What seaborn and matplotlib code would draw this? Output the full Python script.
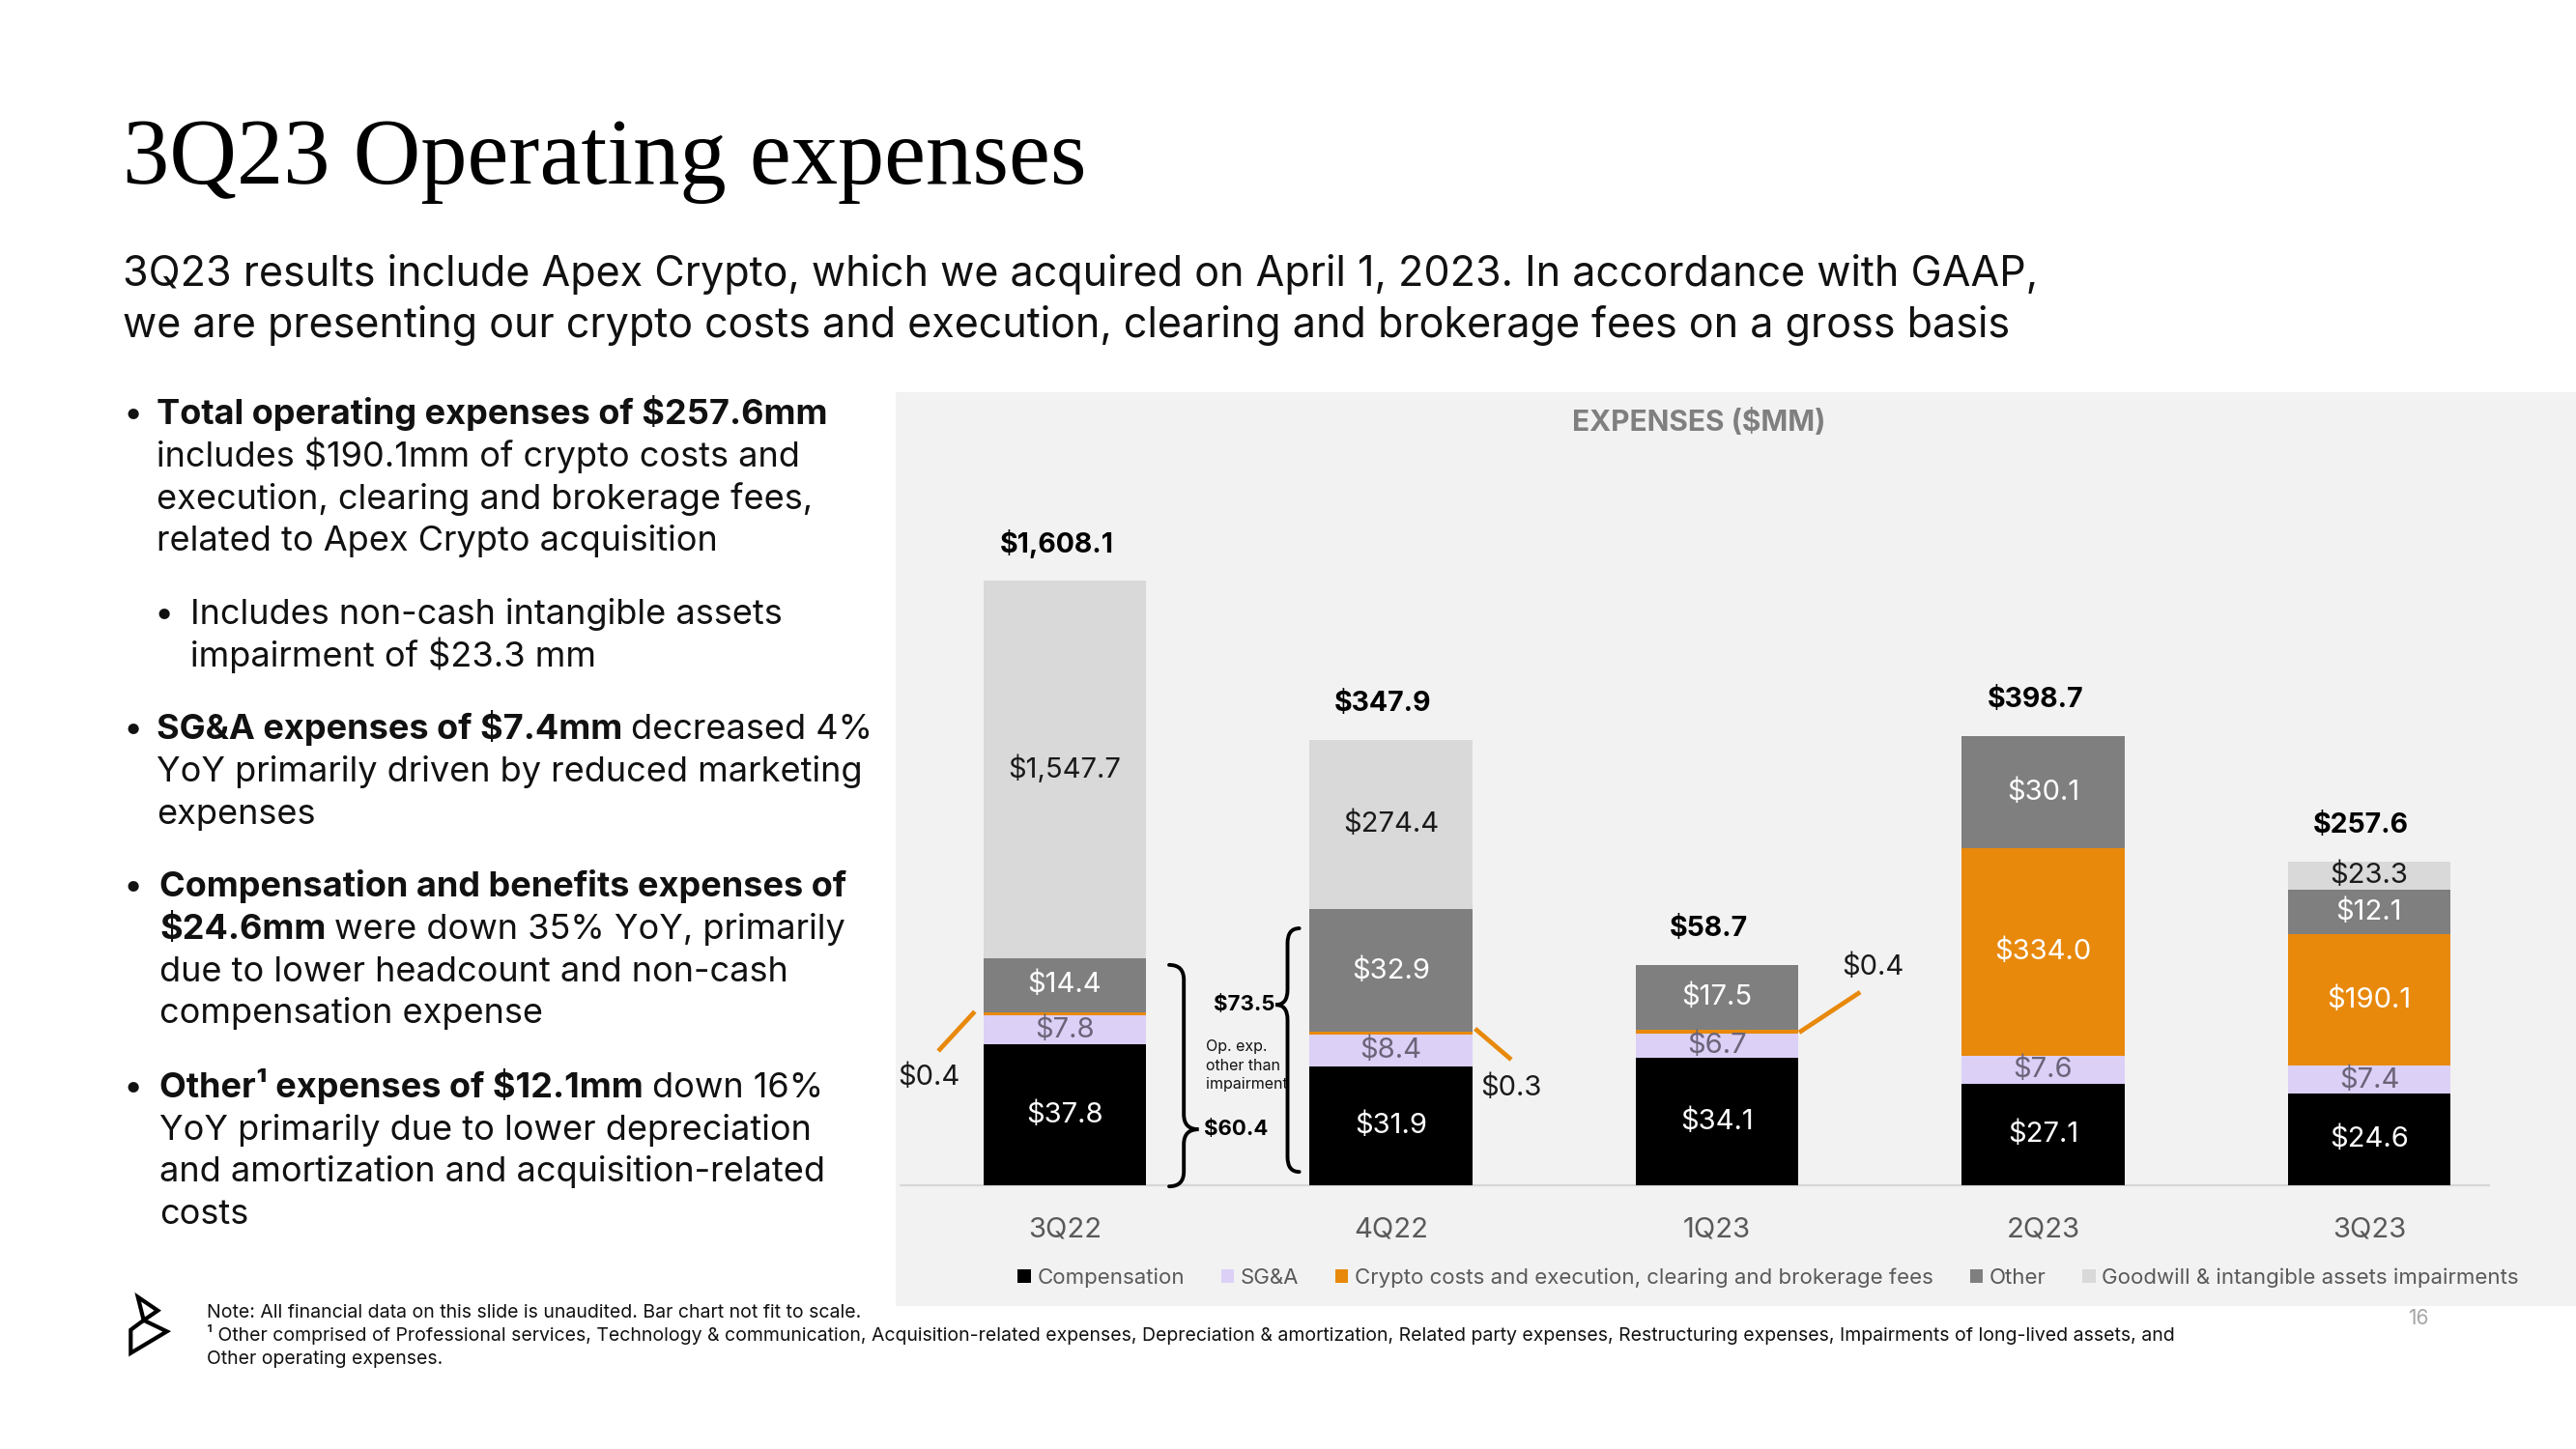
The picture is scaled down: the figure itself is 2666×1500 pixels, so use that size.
import numpy as np
import matplotlib
matplotlib.use("Agg")
import matplotlib.pyplot as plt
import matplotlib.transforms as mtransforms
from matplotlib.path import Path
from matplotlib.patches import PathPatch, Patch, Polygon
import seaborn as sns

# ---------------- data ----------------
quarters = ["3Q22", "4Q22", "1Q23", "2Q23", "3Q23"]
compensation = [37.8, 31.9, 34.1, 27.1, 24.6]
sga = [7.8, 8.4, 6.7, 7.6, 7.4]
crypto = [0.4, 0.3, 0.4, 334.0, 190.1]
other = [14.4, 32.9, 17.5, 30.1, 12.1]
goodwill = [1547.7, 274.4, 0.0, 0.0, 23.3]
totals = [1608.1, 347.9, 58.7, 398.7, 257.6]
# "Bar chart not fit to scale": drawn heights of the big segments
crypto_drawn = [0.9, 0.8, 0.8, 55.7, 35.3]
goodwill_drawn = [101.4, 45.5, 0.0, 0.0, 7.4]
opex_ex_impairment = [60.4, 73.5]
series_names = ["Compensation", "SG&A",
                "Crypto costs and execution, clearing and brokerage fees",
                "Other", "Goodwill & intangible assets impairments"]

# ---------------- style ----------------
sns.set_theme(style="white")
SANS = ["Inter", "DejaVu Sans"]
SERIF = ["Liberation Serif", "DejaVu Serif"]
plt.rcParams["font.family"] = SANS
plt.rcParams["text.parse_math"] = False

C_COMP = "#000000"
C_SGA = "#dcd0f7"
C_CRYPTO = "#e8890c"
C_OTHER = "#7f7f7f"
C_GW = "#d9d9d9"
C_PANEL = "#f2f2f2"
C_TXT = "#111111"

fig = plt.figure(figsize=(26.66, 15), dpi=100)
fig.patch.set_facecolor("white")
# pixel transform: (x, y-from-top) in output pixels
PX = mtransforms.Affine2D().scale(1 / 100, -1 / 100).translate(0, 15) + fig.dpi_scale_trans

# ---------------- title block ----------------
fig.text(127, 190, "3Q23 Operating expenses", transform=PX, fontsize=69.5,
         family=SERIF, color="#000000", va="baseline", ha="left")
fig.text(127, 296, "3Q23 results include Apex Crypto, which we acquired on April 1, 2023. In accordance with GAAP,",
         transform=PX, fontsize=31, color=C_TXT, va="baseline")
fig.text(127, 349, "we are presenting our crypto costs and execution, clearing and brokerage fees on a gross basis",
         transform=PX, fontsize=31, color=C_TXT, va="baseline")

# ---------------- left bullets ----------------
BFS = 26


def line(x, y, bold=None, regular=None):
    if bold:
        t = fig.text(x, y, bold, transform=PX, fontsize=BFS, fontweight="bold",
                     color=C_TXT, va="baseline", ha="left")
        if regular:
            ann = matplotlib.text.Annotation(regular, xy=(1, 0), xycoords=t,
                                             xytext=(6.5, 0), textcoords="offset points",
                                             fontsize=BFS, color=C_TXT, va="bottom", ha="left")
            ann.set_figure(fig)
            fig.add_artist(ann)
    else:
        fig.text(x, y, regular, transform=PX, fontsize=BFS, color=C_TXT,
                 va="baseline", ha="left")


def dot(x, y):
    fig.text(x, y, "•", transform=PX, fontsize=BFS, color=C_TXT, va="baseline", ha="left")


XT = 162
dot(128, 439)
line(XT, 439, bold="Total operating expenses of $257.6mm")
line(XT, 483, regular="includes $190.1mm of crypto costs and")
line(XT, 527, regular="execution, clearing and brokerage fees,")
line(XT, 570, regular="related to Apex Crypto acquisition")
dot(160, 646)
line(197, 646, regular="Includes non-cash intangible assets")
line(197, 690, regular="impairment of $23.3 mm")
dot(128, 765)
line(XT, 765, bold="SG&A expenses of $7.4mm", regular="decreased 4%")
line(XT, 809, regular="YoY primarily driven by reduced marketing")
line(XT, 853, regular="expenses")
dot(128, 928)
line(165, 928, bold="Compensation and benefits expenses of")
line(165, 972, bold="$24.6mm", regular="were down 35% YoY, primarily")
line(165, 1016, regular="due to lower headcount and non-cash")
line(165, 1059, regular="compensation expense")
dot(128, 1136)
line(165, 1136, bold="Other¹ expenses of $12.1mm", regular="down 16%")
line(165, 1180, regular="YoY primarily due to lower depreciation")
line(165, 1223, regular="and amortization and acquisition-related")
line(165, 1267, regular="costs")

# ---------------- chart panel ----------------
PPU = 3.86                 # pixels per $mm for to-scale segments
BASE_Y = 1227              # baseline pixel row
X0, XSTEP = 1102, 337.5    # first bar centre / spacing in pixels
ax = fig.add_axes([927 / 2666, (1500 - 1352) / 1500, (2666 - 927) / 2666, 946 / 1500])
ax.set_facecolor(C_PANEL)

layers = [(compensation, C_COMP), (sga, C_SGA), (crypto_drawn, C_CRYPTO),
          (other, C_OTHER), (goodwill_drawn, C_GW)]
bottom = np.zeros(len(quarters))
bottoms = []
for vals, col in layers:
    vals = np.asarray(vals, dtype=float)
    bottoms.append(bottom.copy())
    sns.barplot(x=quarters, y=vals, bottom=bottom.copy(), color=col, saturation=1,
                width=0.5, errorbar=None, linewidth=0, ax=ax, zorder=2)
    bottom = bottom + vals
stack_top = bottom

ax.set_xlim((927 - X0) / XSTEP, (2666 - X0) / XSTEP)
ax.set_ylim(-(1352 - BASE_Y) / PPU, (BASE_Y - 406) / PPU)
ax.set_xticks([])
ax.set_yticks([])
ax.set_xlabel("")
ax.set_ylabel("")
for s in ax.spines.values():
    s.set_visible(False)

# baseline
ax.plot([(932 - X0) / XSTEP, (2576 - X0) / XSTEP], [0, 0], color="#d6d6d6", lw=1.6, zorder=1)

# panel title
ax.text((1758 - X0) / XSTEP, (BASE_Y - 437) / PPU, "EXPENSES ($MM)", ha="center", va="center",
        fontsize=21.5, fontweight="bold", color="#7f7f7f")

# category labels
for i, q in enumerate(quarters):
    ax.text(i, -(1273 - BASE_Y) / PPU, q, ha="center", va="center", fontsize=21, color="#595959")

LFS = 21
fmt = lambda v: f"${v:,.1f}"
for i in range(len(quarters)):
    b = bottoms
    ax.text(i, b[0][i] + compensation[i] / 2, fmt(compensation[i]), ha="center", va="center",
            color="white", fontsize=LFS, zorder=3)
    ax.text(i, b[1][i] + sga[i] / 2, fmt(sga[i]), ha="center", va="center",
            color="#6b6478", fontsize=LFS, zorder=3)
    if crypto_drawn[i] > 5:
        ax.text(i, b[2][i] + crypto_drawn[i] / 2, fmt(crypto[i]), ha="center", va="center",
                color="white", fontsize=LFS, zorder=3)
    ax.text(i, b[3][i] + other[i] / 2, fmt(other[i]), ha="center", va="center",
            color="white", fontsize=LFS, zorder=3)
    if goodwill_drawn[i] > 0:
        ax.text(i, b[4][i] + goodwill_drawn[i] / 2, fmt(goodwill[i]), ha="center", va="center",
                color="#1a1a1a", fontsize=LFS, zorder=3)
    ax.annotate(fmt(totals[i]), xy=(i, stack_top[i]), xytext=(-6, 27), textcoords="offset points",
                ha="center", va="center", fontsize=20.5, fontweight="bold", color="#000000")

# small crypto call-outs (line start, line end, text position in data coords)
callouts = [
    (0, (-0.276, 46.6), (-0.388, 36.0), (-0.418, 29.0)),
    (1, (1.258, 42.0), (1.369, 33.7), (1.369, 26.2)),
    (2, (2.252, 41.0), (2.439, 51.8), (2.477, 58.5)),
]
for i, p0, p1, pt in callouts:
    ax.plot([p0[0], p1[0]], [p0[1], p1[1]], color=C_CRYPTO, lw=3.4, solid_capstyle="butt", zorder=3)
    ax.text(pt[0], pt[1], fmt(crypto[i]), ha="center", va="center", fontsize=LFS, color="#1a1a1a")


# braces
def brace(xs, d, hw, y0, y1, ytip, r):
    verts = [(xs - d * hw, y1), (xs, y1), (xs, y1 - r),
             (xs, ytip + r), (xs, ytip), (xs + d * hw, ytip),
             (xs, ytip), (xs, ytip - r),
             (xs, y0 + r), (xs, y0), (xs - d * hw, y0)]
    codes = [Path.MOVETO, Path.CURVE3, Path.CURVE3,
             Path.LINETO, Path.CURVE3, Path.CURVE3,
             Path.CURVE3, Path.CURVE3,
             Path.LINETO, Path.CURVE3, Path.CURVE3]
    ax.add_patch(PathPatch(Path(verts, codes), fill=False, lw=2.8, edgecolor="black",
                           capstyle="round", zorder=4))


brace(0.365, +1, 0.045, -0.3, 59.1, 15.0, 4.0)
brace(0.683, -1, 0.036, 3.6, 68.9, 48.4, 4.0)
ax.text(0.426, 15.0, fmt(opex_ex_impairment[0]), ha="left", va="center", fontsize=16,
        fontweight="bold", color="black", zorder=5)
ax.text(0.645, 48.4, fmt(opex_ex_impairment[1]), ha="right", va="center", fontsize=16,
        fontweight="bold", color="black", zorder=5)
ax.text(0.433, 39.0, "Op. exp.\nother than\nimpairment", ha="left", va="top", fontsize=11.5,
        linespacing=1.35, color="#111111", zorder=3)

# legend
handles = [Patch(facecolor=c, edgecolor="none") for c in [C_COMP, C_SGA, C_CRYPTO, C_OTHER, C_GW]]
leg = ax.legend(handles, series_names, loc="center", bbox_to_anchor=(1830, 1323),
                bbox_transform=PX, ncol=5, frameon=False, fontsize=16,
                handlelength=0.6, handleheight=0.6, handletextpad=0.3, columnspacing=1.7,
                borderaxespad=0, borderpad=0)
for t in leg.get_texts():
    t.set_color("#595959")

# ---------------- footer ----------------
fig.add_artist(Polygon([(142.7, 1342.7), (163.3, 1356.7), (148.7, 1366.7)], closed=True,
                       fill=False, lw=3, edgecolor="black", joinstyle="miter", transform=PX))
fig.add_artist(Polygon([(148.7, 1366.7), (172.7, 1378.3), (135.3, 1400.7), (135.3, 1376.7)],
                       closed=True, fill=False, lw=3, edgecolor="black", joinstyle="miter",
                       transform=PX))
FFS = 14
fig.text(214, 1364, "Note: All financial data on this slide is unaudited. Bar chart not fit to scale.",
         transform=PX, fontsize=FFS, color=C_TXT, va="baseline")
fig.text(214, 1388, "¹ Other comprised of Professional services, Technology & communication, "
         "Acquisition-related expenses, Depreciation & amortization, Related party expenses, "
         "Restructuring expenses, Impairments of long-lived assets, and",
         transform=PX, fontsize=FFS, color=C_TXT, va="baseline")
fig.text(214, 1412, "Other operating expenses.", transform=PX, fontsize=FFS, color=C_TXT, va="baseline")
fig.text(2503, 1365, "16", transform=PX, fontsize=15, color="#a6a6a6", ha="center", va="center")

fig.savefig("out.png", dpi=100, facecolor="white")
